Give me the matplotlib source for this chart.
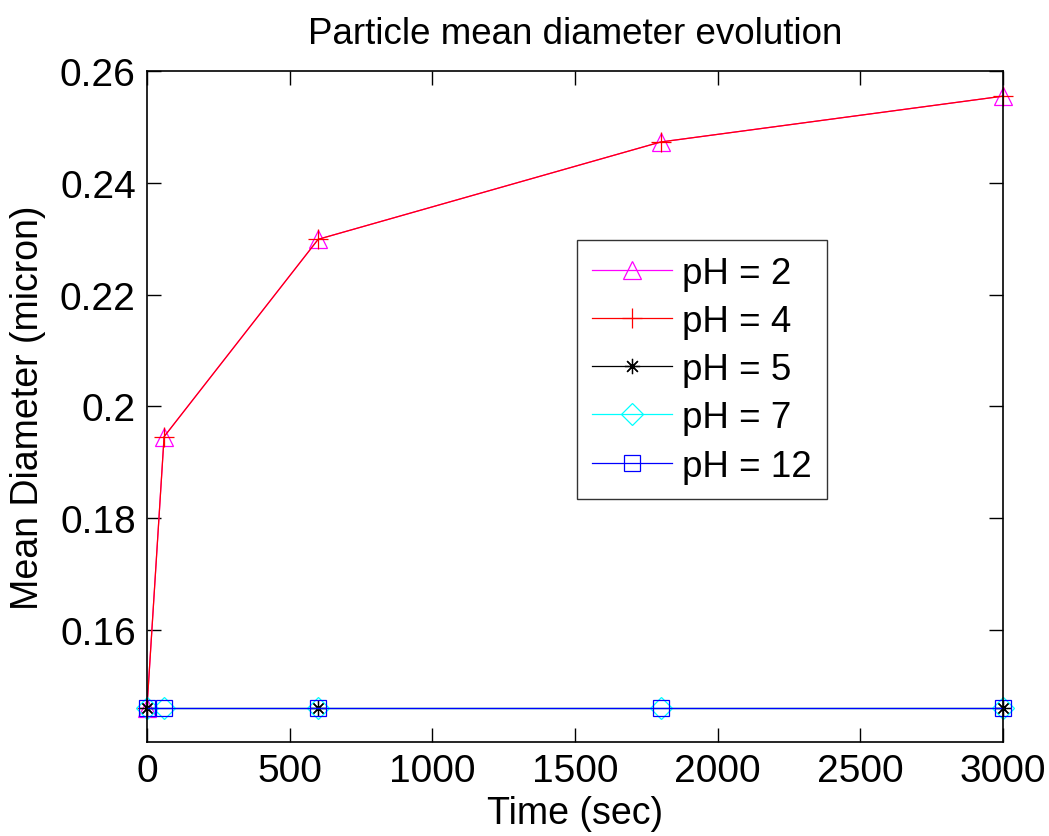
import matplotlib.pyplot as plt
import numpy as np

plt.rcParams['font.family'] = ['Liberation Sans', 'DejaVu Sans']

# time points (sec)
t_full = [0, 60, 600, 1800, 3000]
t_ph5 = [0, 600, 3000]

# mean diameter (micron)
d_ph2 = [0.1461, 0.1946, 0.2299, 0.2473, 0.2555]
d_ph4 = [0.1461, 0.1946, 0.2299, 0.2473, 0.2555]
d_ph5 = [0.1461, 0.1461, 0.1461]
d_ph7 = [0.1461, 0.1461, 0.1461, 0.1461, 0.1461]
d_ph12 = [0.1461, 0.1461, 0.1461, 0.1461, 0.1461]

labels = ['pH = 2', 'pH = 4', 'pH = 5', 'pH = 7', 'pH = 12']

fig = plt.figure(figsize=(10.49, 8.37), dpi=100)
ax = fig.add_axes([0.1401, 0.1123, 0.8161, 0.8017])

lw = 0.9
kw = dict(lw=lw, mew=lw, clip_on=False)
ax.plot(t_full, d_ph2, color='#ff00ff', marker='^', ms=13, mfc='none', label=labels[0], **kw)
ax.plot(t_full, d_ph4, color='red', marker='+', ms=15, label=labels[1], **kw)
ax.plot(t_ph5, d_ph5, color='black', marker=(8, 2, 0), ms=11, label=labels[2], **kw)
ax.plot(t_full, d_ph7, color='cyan', marker='D', ms=11, mfc='none', label=labels[3], **kw)
ax.plot(t_full, d_ph12, color='blue', marker='s', ms=12, mfc='none', label=labels[4], **kw)

ax.set_xlim(0, 3000)
ax.set_ylim(0.14, 0.26)
ax.set_xticks(np.arange(0, 3001, 500))
ax.set_yticks([0.16, 0.18, 0.2, 0.22, 0.24, 0.26])
ax.set_yticklabels(['0.16', '0.18', '0.2', '0.22', '0.24', '0.26'])
ax.tick_params(direction='in', length=10, width=1, top=True, right=True,
               labelsize=28, pad=8)
for s in ax.spines.values():
    s.set_linewidth(1.2)

ax.set_xlabel('Time (sec)', fontsize=27, labelpad=4)
ax.set_ylabel('Mean Diameter (micron)', fontsize=27, labelpad=10)
ax.set_title('Particle mean diameter evolution', fontsize=26.5, pad=20)

leg = ax.legend(loc='upper left', bbox_to_anchor=(0.502, 0.748), fontsize=26.5,
                frameon=True, fancybox=False, edgecolor='black',
                handlelength=2.17, handletextpad=0.27, labelspacing=0.36,
                borderpad=0.42, borderaxespad=0)
leg.get_frame().set_linewidth(1.0)

fig.savefig('out.png', dpi=100)
